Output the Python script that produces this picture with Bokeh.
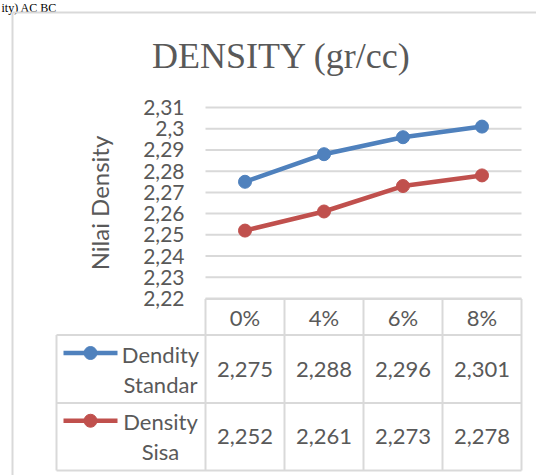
from bokeh.plotting import figure
from bokeh.models import Range1d, LinearAxis, FixedTicker
from bokeh.core.properties import value
from bokeh.embed import file_html
from bokeh.resources import INLINE

# ---- data ----
categories = ["0%", "4%", "6%", "8%"]
series_names = ["Dendity\nStandar", "Density\nSisa"]
standar = [2.275, 2.288, 2.296, 2.301]
sisa = [2.252, 2.261, 2.273, 2.278]
y_ticks = [2.22, 2.23, 2.24, 2.25, 2.26, 2.27, 2.28, 2.29, 2.30, 2.31]
title_text = "DENSITY (gr/cc)"
y_label = "Nilai Density"
caption_text = "ity) AC BC"   # cut-off document text above the chart

def fmt(v, nd):
    s = f"{v:.{nd}f}"
    if nd == 2:
        s = s.rstrip("0").rstrip(".")
    return s.replace(".", ",")

# ---- layout constants (picture pixels) ----
W, H = 536, 475
PG_L, PG_T = 0, 0
PG_R, PG_B = PG_L + W, PG_T + H
CAT_W = 79.0
CAT0_X = 244.5           # x of first category center
Y_LO_PX, Y_HI_PX = 298.0, 107.0
ppu = (Y_LO_PX - Y_HI_PX) / (y_ticks[-1] - y_ticks[0])

x_range = Range1d((PG_L - CAT0_X) / CAT_W, (PG_R - CAT0_X) / CAT_W)
y_range = Range1d(y_ticks[0] - (PG_B - Y_LO_PX) / ppu, y_ticks[0] + (Y_LO_PX - PG_T) / ppu)

p = figure(width=W, height=H, x_range=x_range, y_range=y_range,
           output_backend="svg", toolbar_location=None,
           x_axis_location=None, y_axis_location=None,
           min_border_left=0, min_border_right=0, min_border_top=0, min_border_bottom=0)
p.extra_x_ranges = {"px": Range1d(PG_L, PG_R)}
p.extra_y_ranges = {"px": Range1d(PG_B, PG_T)}
p.xgrid.visible = False
p.ygrid.visible = False
p.outline_line_color = None
p.background_fill_color = "white"
p.border_fill_color = "white"

GRID = "#d9d9d9"
TXT = "#595959"
FONT = value("Lato")
BLUE = "#4F81BD"
RED = "#C0504D"

# small text at the very top (document text above the chart)
p.text(x=[1], y=[0], text=[caption_text], x_range_name="px", y_range_name="px",
       text_font=value("Liberation Serif"), text_font_size="12px", text_color="black",
       text_align="left", text_baseline="top")

# chart box border (left and top edges visible)
p.segment(x0=[12, 12], y0=[12, 12], x1=[12, 560], y1=[480, 12],
          x_range_name="px", y_range_name="px", line_color=GRID, line_width=2)

# title
p.text(x=[281], y=[55], text=[title_text], x_range_name="px", y_range_name="px",
       text_font=value("Liberation Serif"), text_font_size="36px", text_color=TXT,
       text_align="center", text_baseline="middle")

# horizontal gridlines
n = len(categories)
p.segment(x0=[-0.5] * len(y_ticks), x1=[n - 0.5] * len(y_ticks), y0=y_ticks, y1=y_ticks,
          line_color=GRID, line_width=2)

# y axis
yaxis = LinearAxis(fixed_location=-0.5, bounds=(y_ticks[0], y_ticks[-1]),
                   ticker=FixedTicker(ticks=y_ticks),
                   major_label_overrides={t: fmt(t, 2) for t in y_ticks},
                   axis_label=y_label)
yaxis.axis_line_color = None
yaxis.major_tick_line_color = None
yaxis.minor_tick_line_color = None
yaxis.major_tick_in = 0
yaxis.major_tick_out = 0
yaxis.major_label_standoff = 21
yaxis.major_label_text_font = "Lato"
yaxis.major_label_text_font_size = "21px"
yaxis.major_label_text_color = TXT
yaxis.axis_label_standoff = 26
yaxis.axis_label_text_font = "Lato"
yaxis.axis_label_text_font_size = "24px"
yaxis.axis_label_text_font_style = "normal"
yaxis.axis_label_text_color = TXT
p.add_layout(yaxis, "left")

# series lines
xs = list(range(n))
for vals, col in ((standar, BLUE), (sisa, RED)):
    p.line(xs, vals, line_color=col, line_width=4.5)
    p.scatter(xs, vals, size=13, fill_color=col, line_color=col)

# ---- data table ----
TBL_TOP, ROW1, ROW2, TBL_BOT = 298.5, 334.5, 402.5, 470.0
TBL_LEFT = 56
bounds = [i - 0.5 for i in range(n + 1)]
p.segment(x0=bounds, x1=bounds, y0=[TBL_TOP] * len(bounds), y1=[TBL_BOT] * len(bounds),
          y_range_name="px", line_color=GRID, line_width=2)
p.segment(x0=[bounds[0]], x1=[bounds[-1]], y0=[TBL_TOP], y1=[TBL_TOP],
          y_range_name="px", line_color=GRID, line_width=2)
p.segment(x0=[TBL_LEFT], x1=[TBL_LEFT], y0=[ROW1], y1=[TBL_BOT],
          x_range_name="px", y_range_name="px", line_color=GRID, line_width=2)
p.segment(x0=[TBL_LEFT] * 3, x1=[CAT0_X + (n - 0.5) * CAT_W] * 3, y0=[ROW1, ROW2, TBL_BOT],
          y1=[ROW1, ROW2, TBL_BOT], x_range_name="px", y_range_name="px",
          line_color=GRID, line_width=2)

# header
p.text(x=xs, y=[316.5] * n, text=categories, y_range_name="px",
       text_font=FONT, text_font_size="22px", text_color=TXT,
       text_align="center", text_baseline="middle")

row_centers = [(ROW1 + ROW2) / 2, (ROW2 + TBL_BOT) / 2]
for rc, vals, name, col in zip(row_centers, (standar, sisa), series_names, (BLUE, RED)):
    p.text(x=xs, y=[rc] * n, text=[fmt(v, 3) for v in vals], y_range_name="px",
           text_font=FONT, text_font_size="22px", text_color=TXT,
           text_align="center", text_baseline="middle")
    l1, l2 = name.split("\n")
    p.text(x=[160, 160], y=[rc - 15, rc + 15], text=[l1, l2],
           x_range_name="px", y_range_name="px",
           text_font=FONT, text_font_size="22px", text_color=TXT,
           text_align="center", text_baseline="middle")
    p.segment(x0=[63], x1=[117], y0=[rc - 16], y1=[rc - 16],
              x_range_name="px", y_range_name="px", line_color=col, line_width=4.5)
    p.scatter(x=[90], y=[rc - 16], size=13, fill_color=col, line_color=col,
              x_range_name="px", y_range_name="px")

open("out.html", "w").write(file_html(p, INLINE))
